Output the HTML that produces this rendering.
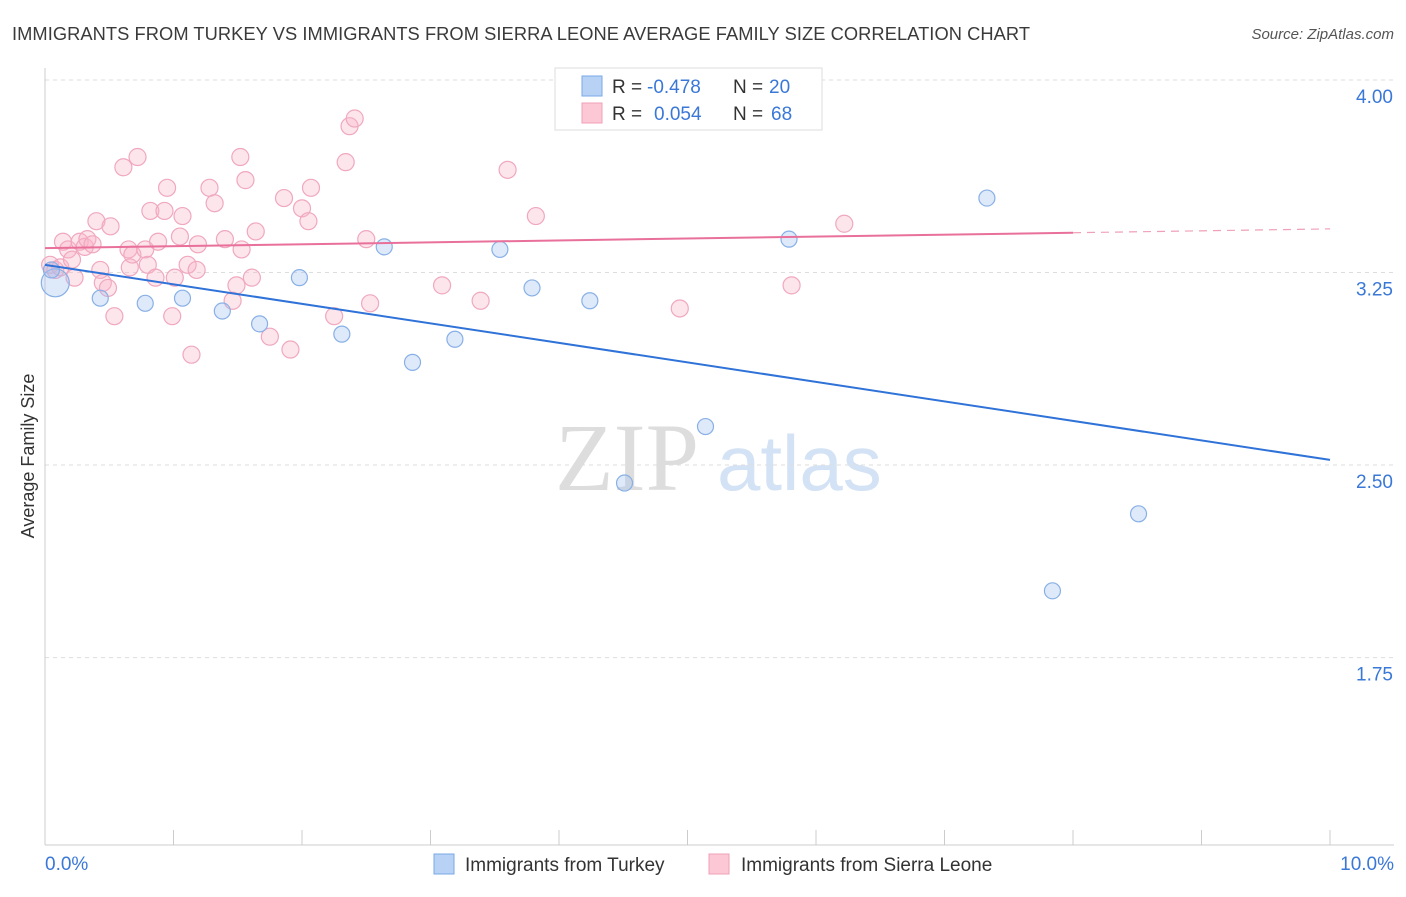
<!DOCTYPE html>
<html><head><meta charset="utf-8"><style>
body{margin:0;background:#fff;font-family:"Liberation Sans",sans-serif;}
</style></head><body>
<svg id="chart" width="1406" height="892" xmlns="http://www.w3.org/2000/svg" style="font-family:'Liberation Sans',sans-serif">
<text x="12" y="40" font-size="18.3" fill="#3a3a3a" textLength="1018">IMMIGRANTS FROM TURKEY VS IMMIGRANTS FROM SIERRA LEONE AVERAGE FAMILY SIZE CORRELATION CHART</text>
<text x="1394" y="39" font-size="15" fill="#555" font-style="italic" text-anchor="end">Source: ZipAtlas.com</text>
<text transform="translate(34,456) rotate(-90)" font-size="18" fill="#333" text-anchor="middle">Average Family Size</text>
<g>
<text x="555" y="490" font-size="96" fill="#ddd" font-family="'Liberation Serif',serif">ZIP</text>
<text x="717" y="490" font-size="78" fill="#d3e2f5">atlas</text>
</g>
<g id="grid"></g><g id="axes"></g><g id="marks"></g>
<g>
<rect x="555" y="68" width="267" height="62" fill="#fff" stroke="#ddd"/>
<rect x="582" y="76" width="20" height="20" fill="#b8d2f5" stroke="#7aaae8"/>
<rect x="582" y="103" width="20" height="20" fill="#fcc8d6" stroke="#f0a0b8"/>
<g font-size="19" fill="#333">
<text x="612" y="93">R =</text><text x="647" y="93" fill="#3a78d8">-0.478</text><text x="733" y="93">N =</text><text x="769" y="93" fill="#3a78d8">20</text>
</g>
<g font-size="19" fill="#333">
<text x="612" y="120">R =</text><text x="654" y="120" fill="#3a78d8">0.054</text><text x="733" y="120">N =</text><text x="771" y="120" fill="#3a78d8">68</text>
</g>
</g>
<g>
<rect x="434" y="854" width="20" height="20" fill="#b8d2f5" stroke="#7aaae8"/>
<text x="465" y="871" font-size="19" fill="#333">Immigrants from Turkey</text>
<rect x="709" y="854" width="20" height="20" fill="#fcc8d6" stroke="#f0a0b8"/>
<text x="741" y="871" font-size="19" fill="#333">Immigrants from Sierra Leone</text>
</g>
</svg>
<script>
const yTicks=[4.00,3.25,2.50,1.75];
const xTickLabels=["0.0%","10.0%"];
const turkeyX=[0.08,0.05,0.43,0.78,1.07,1.38,1.67,1.98,2.31,2.64,2.86,3.19,3.54,3.79,4.24,4.51,5.14,5.79,7.33,8.51,7.84];
const turkeyY=[3.21,3.26,3.15,3.13,3.15,3.10,3.05,3.23,3.01,3.35,2.90,2.99,3.34,3.19,3.14,2.43,2.65,3.38,3.54,2.31,2.01];
const turkeySize=[14,8,8,8,8,8,8,8,8,8,8,8,8,8,8,8,8,8,8,8,8];
const sierraX=[0.04,0.08,0.12,0.14,0.18,0.21,0.23,0.27,0.31,0.33,0.37,0.40,0.43,0.45,0.49,0.51,0.54,0.61,0.65,0.66,0.68,0.72,0.78,0.80,0.82,0.86,0.88,0.93,0.95,0.99,1.01,1.05,1.07,1.11,1.14,1.18,1.19,1.28,1.32,1.40,1.46,1.49,1.52,1.53,1.56,1.61,1.64,1.75,1.86,1.91,2.00,2.05,2.07,2.25,2.34,2.37,2.41,2.50,2.53,3.09,3.39,3.60,3.82,4.94,5.81,6.22];
const sierraY=[3.28,3.26,3.27,3.37,3.34,3.30,3.23,3.37,3.35,3.38,3.36,3.45,3.26,3.21,3.19,3.43,3.08,3.66,3.34,3.27,3.32,3.70,3.34,3.28,3.49,3.23,3.37,3.49,3.58,3.08,3.23,3.39,3.47,3.28,2.93,3.26,3.36,3.58,3.52,3.38,3.14,3.20,3.70,3.34,3.61,3.23,3.41,3.00,3.54,2.95,3.50,3.45,3.58,3.08,3.68,3.82,3.85,3.38,3.13,3.20,3.14,3.65,3.47,3.11,3.20,3.44];
const turkeyTrend=[3.28,2.52];
const sierraTrend=[3.345,3.42];

const NS="http://www.w3.org/2000/svg";
const X0=45,X1=1330,Ytop=80,PXV=256.7;
function sx(p){return X0+(p/10)*(X1-X0);}
function sy(v){return Ytop+(4-v)*PXV;}
function mk(tag,attrs,parent){const e=document.createElementNS(NS,tag);for(const k in attrs)e.setAttribute(k,attrs[k]);parent.appendChild(e);return e;}
const grid=document.getElementById('grid'),axes=document.getElementById('axes'),marks=document.getElementById('marks');
yTicks.forEach(v=>{
  const l=mk('line',{x1:45,x2:1394,y1:sy(v),y2:sy(v),stroke:'#ddd','stroke-dasharray':'4,4'},grid);
  
  
  const t=mk('text',{x:1393,y:sy(v)+23,'font-size':19,fill:'#3a78d8','text-anchor':'end'},grid);
  t.textContent=v.toFixed(2);
  
  
});
const ax=mk('line',{x1:45,x2:45,y1:68,y2:845,stroke:'#ccc'},axes);


const bx=mk('line',{x1:45,x2:1394,y1:845,y2:845,stroke:'#ccc'},axes);


for(let i=0;i<=10;i++){
  const t=mk('line',{x1:sx(i),x2:sx(i),y1:830,y2:845,stroke:'#ccc'},axes);
  
  
}
const xl0=mk('text',{x:45,y:870,'font-size':19,fill:'#3a78d8','text-anchor':'start'},axes);
xl0.textContent=xTickLabels[0];


const xl1=mk('text',{x:1394,y:870,'font-size':19,fill:'#3a78d8','text-anchor':'end'},axes);
xl1.textContent=xTickLabels[1];



sierraX.forEach((x,i)=>{
  const c=mk('circle',{cx:sx(x),cy:sy(sierraY[i]),r:8.5,fill:'rgba(248,180,200,0.35)',stroke:'#f0a8bf','stroke-width':1.2},marks);
  
  
});
turkeyX.forEach((x,i)=>{
  const c=mk('circle',{cx:sx(x),cy:sy(turkeyY[i]),r:turkeySize[i],fill:'rgba(160,192,240,0.35)',stroke:'#88b0e6','stroke-width':1.2},marks);
  
  
});
const tl=mk('line',{x1:sx(0),y1:sy(turkeyTrend[0]),x2:sx(10),y2:sy(turkeyTrend[1]),stroke:'#2f72d8','stroke-width':2},marks);


const sm=sierraTrend[0]+(sierraTrend[1]-sierraTrend[0])*0.8;
const pl=mk('line',{x1:sx(0),y1:sy(sierraTrend[0]),x2:sx(8),y2:sy(sm),stroke:'#e8709a','stroke-width':2},marks);


const pd=mk('line',{x1:sx(8),y1:sy(sm),x2:sx(10),y2:sy(sierraTrend[1]),stroke:'#f0a0b8','stroke-width':1.2,'stroke-dasharray':'8,6'},marks);


</script>
</body></html>
